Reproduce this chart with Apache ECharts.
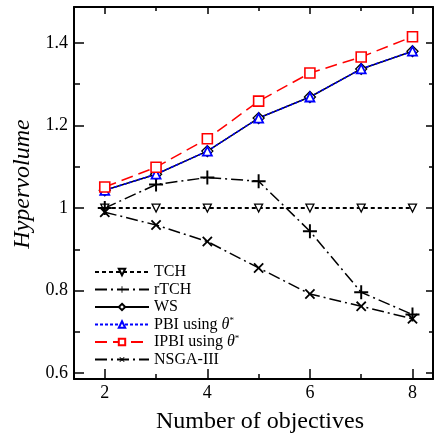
<!DOCTYPE html>
<html>
<head>
<meta charset="utf-8">
<script src="https://cdn.jsdelivr.net/npm/echarts@6/dist/echarts.min.js"></script>
<style>
    html, body {margin: 0; padding: 0; background: #fff;}
    #chart {width: 435px; height: 436px;}
</style>
</head>
<body>
<div id="chart"></div>
<script>
// 数据部分
var objectives = [2, 3, 4, 5, 6, 7, 8];
var tchData = [1.0, 1.0, 1.0, 1.0, 1.0, 1.0, 1.0];
var rtchData = [1.0, 1.057, 1.074, 1.065, 0.944, 0.796, 0.742];
var wsData = [1.043, 1.082, 1.138, 1.218, 1.269, 1.337, 1.380];
var pbiData = [1.043, 1.082, 1.138, 1.218, 1.269, 1.337, 1.380];
var ipbiData = [1.051, 1.099, 1.168, 1.259, 1.327, 1.366, 1.415];
var nsgaData = [0.99, 0.959, 0.919, 0.855, 0.792, 0.762, 0.732];

var xMajorTicks = [2, 4, 6, 8];
var xMinorTicks = [3, 5, 7];
var yMajorTicks = [0.6, 0.8, 1.0, 1.2, 1.4];
var yMinorTicks = [0.7, 0.9, 1.1, 1.3];

var serif = "Liberation Serif";
var plusPath = 'path://M4.3,0H5.7V4.3H10V5.7H5.7V10H4.3V5.7H0V4.3H4.3Z';

function pairs(ys) {
    var arr = [];
    for (var i = 0; i < objectives.length; i++) {
        arr.push([objectives[i], ys[i]]);
    }
    return arr;
}

// 坐标轴（四边都有内刻度）
function makeX(pos, ticks, len, showLabel, showLine) {
    return {
        type: 'value', position: pos, min: 1.4, max: 8.4,
        axisLine: {show: showLine, onZero: false, lineStyle: {color: '#000', width: 2}},
        axisTick: {show: true, inside: true, length: len, customValues: ticks, lineStyle: {color: '#000', width: 1.5}},
        axisLabel: {show: showLabel, customValues: ticks, color: '#000', fontFamily: serif, fontSize: 18, margin: 5},
        splitLine: {show: false}
    };
}

function makeY(pos, ticks, len, showLabel, showLine) {
    return {
        type: 'value', position: pos, min: 0.586, max: 1.487,
        axisLine: {show: showLine, onZero: false, lineStyle: {color: '#000', width: 2}},
        axisTick: {show: true, inside: true, length: len, customValues: ticks, lineStyle: {color: '#000', width: 1.5}},
        axisLabel: {
            show: showLabel, customValues: ticks, color: '#000', fontFamily: serif, fontSize: 18, margin: 6,
            formatter: function (v) { return String(Math.round(v * 10) / 10); }
        },
        splitLine: {show: false}
    };
}

var chart = echarts.init(document.getElementById('chart'));

var option = {
    animation: false,
    backgroundColor: '#fff',
    grid: {left: 74, right: 2, top: 7, bottom: 57},
    xAxis: [
        makeX('bottom', xMajorTicks, 10, true, true),
        makeX('bottom', xMinorTicks, 5, false, false),
        makeX('top', xMajorTicks, 7, false, true),
        makeX('top', xMinorTicks, 4, false, false)
    ],
    yAxis: [
        makeY('left', yMajorTicks, 10, true, true),
        makeY('left', yMinorTicks, 6, false, false),
        makeY('right', yMajorTicks, 7, false, true),
        makeY('right', yMinorTicks, 4, false, false)
    ],
    graphic: [
        {
            type: 'text', x: 260, y: 422,
            style: {text: 'Number of objectives', fill: '#000', font: '24px "Liberation Serif"', align: 'center', verticalAlign: 'middle'}
        },
        {
            type: 'text', x: 23, y: 184, rotation: Math.PI / 2,
            style: {text: 'Hypervolume', fill: '#000', font: 'italic 24px "Liberation Serif"', align: 'center', verticalAlign: 'middle'}
        }
    ],
    legend: {
        orient: 'vertical', left: 89, top: 259,
        itemWidth: 54, itemHeight: 8, itemGap: 1.5,
        textStyle: {
            fontFamily: serif, fontSize: 16, color: '#000', lineHeight: 16,
            rich: {
                n: {fontFamily: serif, fontSize: 16, lineHeight: 16, color: '#000'},
                t: {fontFamily: serif, fontSize: 16, lineHeight: 16, fontStyle: 'italic', color: '#000'},
                s: {fontFamily: serif, fontSize: 9, lineHeight: 16, color: '#000', verticalAlign: 'top'}
            }
        },
        formatter: function (name) {
            if (name === 'PBI using θ*') return '{n|PBI using }{t|θ}{s|*}';
            if (name === 'IPBI using θ*') return '{n|IPBI using }{t|θ}{s|*}';
            return name;
        },
        data: ['TCH', 'rTCH', 'WS', 'PBI using θ*', 'IPBI using θ*', 'NSGA-III']
    },
    series: [
        {
            name: 'TCH', type: 'line', data: pairs(tchData),
            symbol: 'triangle', symbolRotate: 180, symbolSize: 8,
            lineStyle: {color: '#000', width: 2, type: [4, 3]},
            itemStyle: {color: '#fff', borderColor: '#000', borderWidth: 1.3}
        },
        {
            name: 'rTCH', type: 'line', data: pairs(rtchData),
            symbol: plusPath, symbolSize: 14,
            lineStyle: {color: '#000', width: 1.5, type: [12, 4, 2, 4]},
            itemStyle: {color: '#000', borderWidth: 0}
        },
        {
            name: 'WS', type: 'line', data: pairs(wsData),
            symbol: 'diamond', symbolSize: 11,
            lineStyle: {color: '#000', width: 1.5},
            itemStyle: {color: '#fff', borderColor: '#000', borderWidth: 1.3}
        },
        {
            name: 'PBI using θ*', type: 'line', data: pairs(pbiData),
            symbol: 'triangle', symbolSize: 9,
            lineStyle: {color: '#0000ff', width: 1.5, type: [3, 2]},
            itemStyle: {color: '#fff', borderColor: '#0000ff', borderWidth: 1.8}
        },
        {
            name: 'IPBI using θ*', type: 'line', data: pairs(ipbiData),
            symbol: 'rect', symbolSize: 10,
            lineStyle: {color: '#ff0000', width: 1.5, type: [12, 6]},
            itemStyle: {color: '#fff', borderColor: '#ff0000', borderWidth: 1.6}
        },
        {
            name: 'NSGA-III', type: 'line', data: pairs(nsgaData),
            symbol: plusPath, symbolRotate: 45, symbolSize: 13,
            lineStyle: {color: '#000', width: 1.5, type: [12, 4, 2, 4]},
            itemStyle: {color: '#000', borderWidth: 0}
        }
    ]
};

chart.setOption(option);
</script>
</body>
</html>
